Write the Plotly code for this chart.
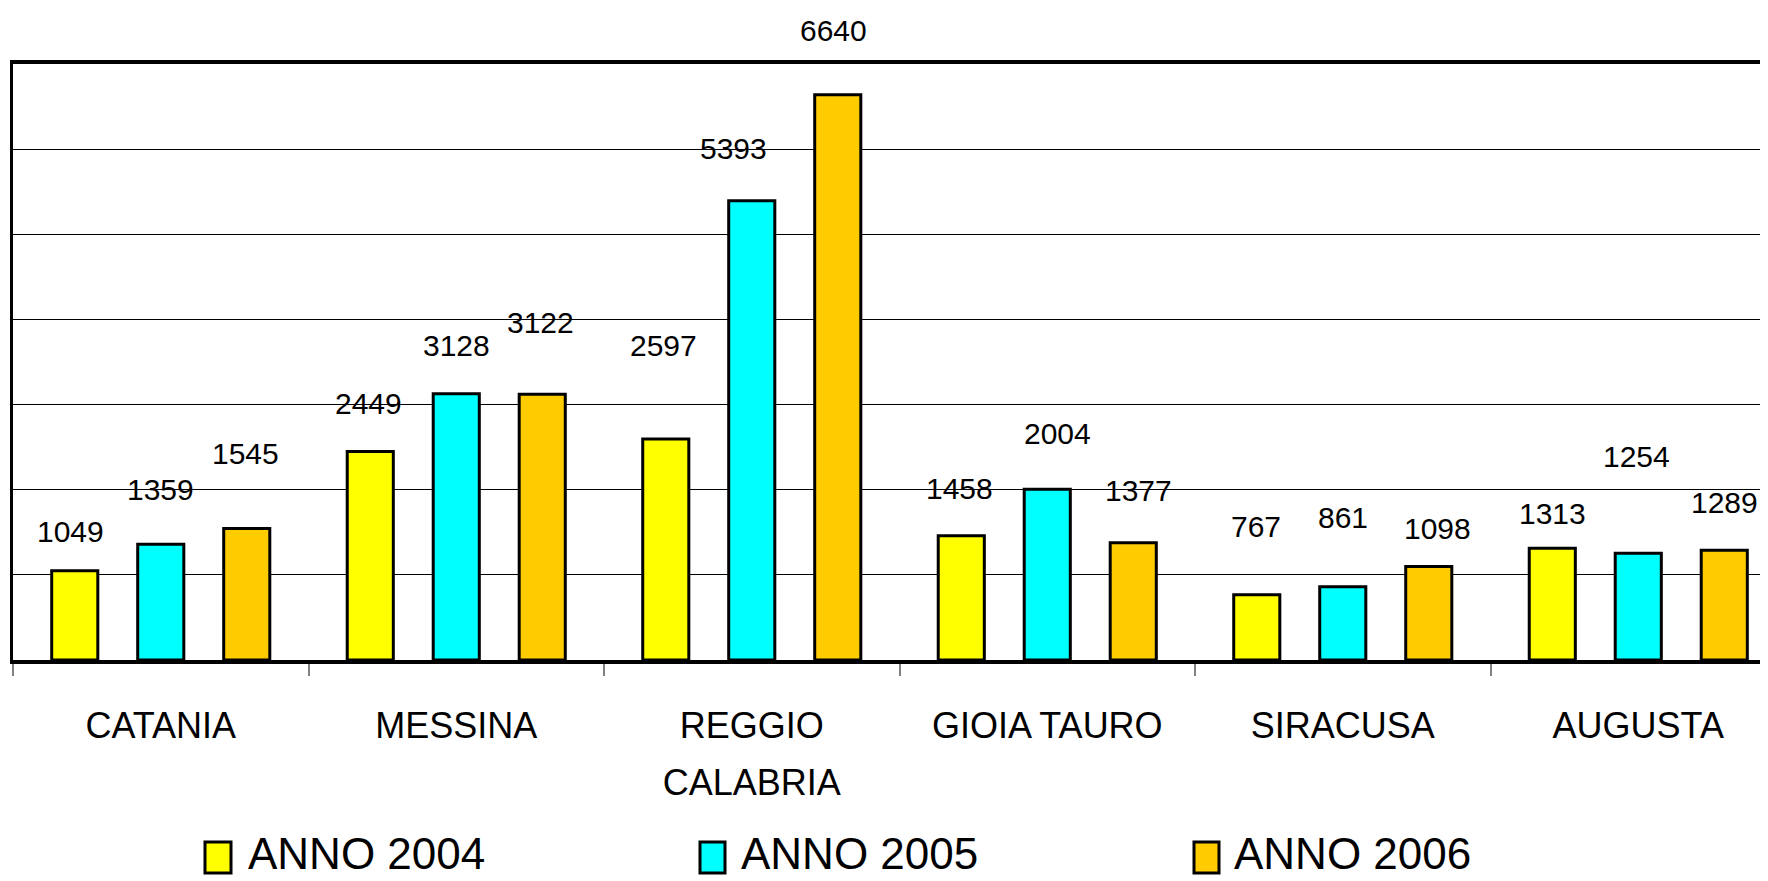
import plotly.graph_objects as go

categories = ["CATANIA", "MESSINA", "REGGIO CALABRIA", "GIOIA TAURO", "SIRACUSA", "AUGUSTA"]
tick_labels = ["CATANIA", "MESSINA", "REGGIO<br>CALABRIA", "GIOIA TAURO", "SIRACUSA", "AUGUSTA"]
series_names = ["ANNO 2004", "ANNO 2005", "ANNO 2006"]
anno_2004 = [1049, 2449, 2597, 1458, 767, 1313]
anno_2005 = [1359, 3128, 5393, 2004, 861, 1254]
anno_2006 = [1545, 3122, 6640, 1377, 1098, 1289]
y_ticks = [0, 1000, 2000, 3000, 4000, 5000, 6000, 7000]

# label placement (pixels above bar top / sideways nudge), styling only
label_lift = [
    [39, 48, 93, 47, 68, 35],
    [55, 48, 52, 56, 69, 97],
    [75, 72, 64, 52, 38, 48],
]
label_nudge = [
    [-4, -2, -2, -2, -1, 0],
    [0, 0, -18, 10, 0, -2],
    [-1, -2, -4, 5, 9, 0],
]
colors = ["#FFFF00", "#00FFFF", "#FFCC00"]

FONT = "Liberation Sans Narrow, Arial Narrow, Liberation Sans, Arial, sans-serif"
OFF = 8  # default page body margin around the figure
W, H = 1768 - OFF, 881 - OFF
ML, MR, MT, MB = 13 - OFF, 0, 64 - OFF, 881 - 660
PW, PH = W - ML - MR, H - MT - MB
BARGAP, BARGROUPGAP = 0.127, 0.464
XRANGE = [-0.5, 5.439]

# legend layout in page pixels: (box left, box right, text left)
legend_boxes = [(205, 231, 246), (700, 725, 739), (1194, 1219, 1232)]
LEG_BOX_TOP, LEG_BOX_BOTTOM, LEG_TEXT_Y = 842, 873, 853


def px_x(px):
    return (px - OFF - ML) / PW


def px_y(py):
    return (H - MB - (py - OFF)) / PH


values = [anno_2004, anno_2005, anno_2006]

fig = go.Figure()
for k, (name, vals, col) in enumerate(zip(series_names, values, colors)):
    fig.add_trace(go.Bar(
        x=categories, y=vals, name=name,
        marker=dict(color=col, line=dict(color="black", width=3)),
        hoverinfo="x+y", showlegend=False,
    ))

slot = (1 - BARGAP) / len(values)
annotations = []
for k, vals in enumerate(values):
    for i, v in enumerate(vals):
        annotations.append(dict(
            x=i + (k - 1) * slot, y=v, xref="x", yref="y",
            text=str(v), showarrow=False,
            yanchor="middle", xanchor="center",
            yshift=label_lift[k][i], xshift=label_nudge[k][i],
            font=dict(family=FONT, size=30, color="black"),
        ))

shapes = []
for (bl, br, tl), name, col in zip(legend_boxes, series_names, colors):
    shapes.append(dict(
        type="rect", xref="paper", yref="paper",
        x0=px_x(bl), x1=px_x(br), y0=px_y(LEG_BOX_BOTTOM), y1=px_y(LEG_BOX_TOP),
        fillcolor=col, line=dict(color="black", width=3), layer="above",
    ))
    annotations.append(dict(
        x=px_x(tl), y=px_y(LEG_TEXT_Y), xref="paper", yref="paper",
        text=name, showarrow=False, xanchor="left", yanchor="middle",
        font=dict(family=FONT, size=44, color="black"),
    ))

fig.update_layout(
    width=W, height=H,
    margin=dict(l=ML, r=MR, t=MT, b=MB, pad=0, autoexpand=False),
    paper_bgcolor="white", plot_bgcolor="white",
    barmode="group", bargap=BARGAP, bargroupgap=BARGROUPGAP,
    font=dict(family=FONT, color="black"),
    annotations=annotations,
    shapes=shapes,
    showlegend=False,
    xaxis=dict(
        type="category", range=XRANGE, tickson="boundaries",
        tickvals=categories,
        ticktext=['<span style="font-size:36px">%s</span>' % t for t in tick_labels],
        showline=True, linecolor="black", linewidth=4, mirror=True,
        ticks="outside", ticklen=12, tickwidth=2, tickcolor="#808080",
        tickfont=dict(family=FONT, size=44, color="black"),
        showgrid=False, zeroline=False, fixedrange=True,
        ticklabelstandoff=21, automargin=False,
    ),
    yaxis=dict(
        range=[0, 7000], tickvals=y_ticks, showticklabels=False,
        showgrid=True, gridcolor="black", gridwidth=1,
        showline=True, linecolor="black", linewidth=3, mirror=False,
        ticks="", zeroline=False, fixedrange=True, automargin=False,
    ),
)

fig.write_html("out.html")
